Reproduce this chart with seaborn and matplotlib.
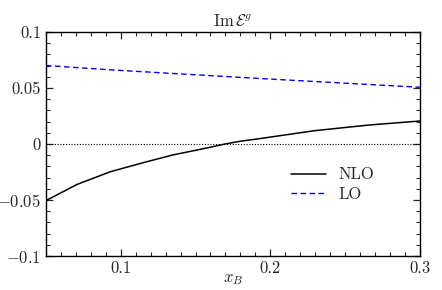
import numpy as np
import pandas as pd
import matplotlib
matplotlib.use("Agg")
import matplotlib.pyplot as plt
import seaborn as sns
from matplotlib.ticker import MultipleLocator

sns.set_style("ticks")
plt.rcParams["font.family"] = "serif"
plt.rcParams["font.serif"] = ["cmr10"]
plt.rcParams["mathtext.fontset"] = "cm"
plt.rcParams["axes.formatter.use_mathtext"] = True

# values
x_nlo = [0.05, 0.0709, 0.0932, 0.1155, 0.1351, 0.1574, 0.1697, 0.1797, 0.193, 0.2064, 0.2298, 0.2666, 0.30]
y_nlo = [-0.0505, -0.036, -0.0247, -0.0165, -0.0097, -0.0036, 0.0, 0.0024, 0.0048, 0.0074, 0.0119, 0.0170, 0.0205]
x_lo = [0.05, 0.10, 0.20, 0.30]
y_lo = [0.070, 0.0656, 0.0579, 0.0506]

nlo = pd.DataFrame({"x": x_nlo, "y": y_nlo})
lo = pd.DataFrame({"x": x_lo, "y": y_lo})

fig = plt.figure(figsize=(4.42, 2.9), dpi=100)
ax = fig.add_axes([0.104, 0.117, 0.846, 0.773])

ax.axhline(0, color="black", lw=0.8, ls=(0, (1, 1.5)))
sns.lineplot(data=nlo, x="x", y="y", ax=ax, color="black", lw=1.1, label="NLO")
sns.lineplot(data=lo, x="x", y="y", ax=ax, color="blue", lw=1.0, ls=(0, (4, 2.5)), label="LO")

ax.set_xlim(0.05, 0.3)
ax.set_ylim(-0.1, 0.1)
ax.xaxis.set_minor_locator(MultipleLocator(0.01))
ax.yaxis.set_minor_locator(MultipleLocator(0.01))
ax.set_xticks([0.1, 0.2, 0.3])
ax.set_xticklabels(["0.1", "0.2", "0.3"])
ax.set_yticks([-0.1, -0.05, 0, 0.05, 0.1])
ax.set_yticklabels(["$-0.1$", "$-0.05$", "0", "0.05", "0.1"])
ax.tick_params(which="both", direction="in", top=True, right=True, labelsize=12, pad=3.5)
ax.tick_params(which="major", length=5, width=0.9)
ax.tick_params(which="minor", length=3, width=0.8)
for s in ax.spines.values():
    s.set_linewidth(1.0)
    s.set_color("black")

ax.set_xlabel("$x_B$", fontsize=12, labelpad=-3)
ax.set_ylabel("")
ax.set_title(r"$\mathrm{Im}\,\mathcal{E}^g$", fontsize=12, pad=4)
ax.legend(loc="lower left", bbox_to_anchor=(0.616, 0.175), frameon=False, fontsize=12,
          handlelength=2.1, handletextpad=0.7, labelspacing=0.25)

fig.savefig("out.png", dpi=100)
